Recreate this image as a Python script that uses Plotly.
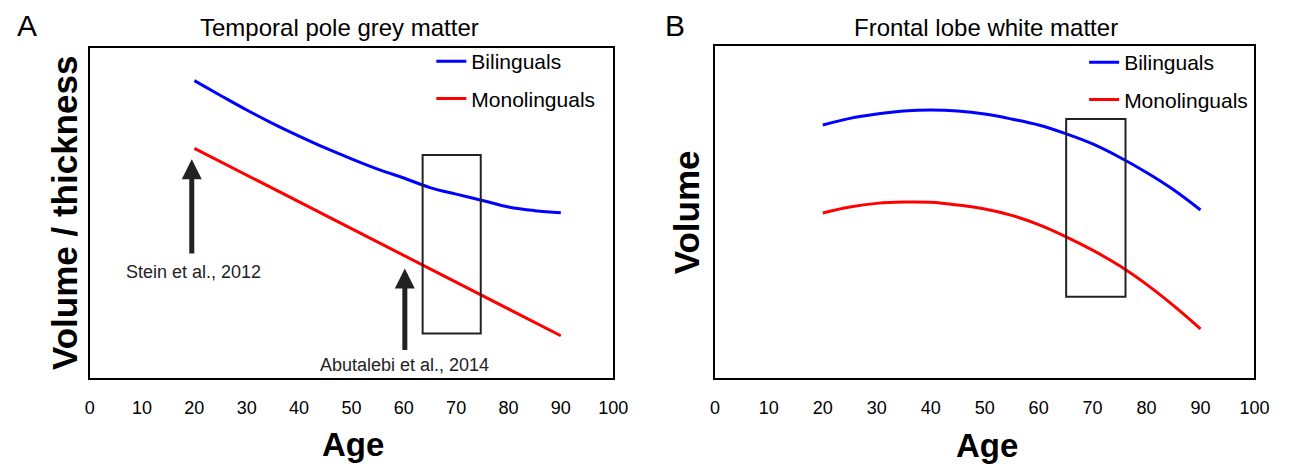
import plotly.graph_objects as go

W, H = 1299, 469

# ---------------- data ----------------
# Panel A: Temporal pole grey matter
ages_a_bi = [20, 25, 30, 35, 40, 45, 50, 55, 60, 65, 70, 75, 80, 85, 90]
vol_a_bi = [90.2, 85.7, 81.3, 77.2, 73.4, 69.8, 66.5, 63.4, 60.7, 57.8, 55.8, 53.9, 51.9, 50.8, 50.2]
ages_a_mono = [20, 90]
vol_a_mono = [69.7, 12.9]
box_a_x = [63.6, 74.7]
box_a_y = [13.6, 67.7]

# Panel B: Frontal lobe white matter
ages_b = [20, 25, 30, 35, 40, 45, 50, 55, 60, 65, 70, 75, 80, 85, 90]
vol_b_bi = [76.2, 78.2, 79.5, 80.4, 80.7, 80.4, 79.5, 78.0, 76.2, 73.6, 70.5, 66.5, 61.9, 56.7, 50.6]
vol_b_mono = [49.7, 51.5, 52.6, 53.0, 52.9, 52.1, 50.9, 49.0, 46.2, 42.6, 38.5, 33.8, 28.2, 21.8, 14.8]
box_b_x = [65.1, 76.1]
box_b_y = [24.5, 78.0]

x_ticks = [0, 10, 20, 30, 40, 50, 60, 70, 80, 90, 100]

# arrows (age, tip, tail) and labels
stein_arrow = dict(age=19.5, tip=66.4, tail=37.4)
stein_label = dict(age=19.9, y=32.3, text="Stein et al., 2012")
abu_arrow = dict(age=60.2, tip=33.3, tail=8.1)
abu_label = dict(age=60.2, y=4.0, text="Abutalebi et al., 2014")

FONT = "Liberation Sans, Arial, sans-serif"
BLUE = "#0000FF"
RED = "#FF0000"

def px(x):
    return x / W

def py(y):
    return 1 - y / H

fig = go.Figure()

fig.add_trace(go.Scatter(x=ages_a_bi, y=vol_a_bi, mode="lines", name="Bilinguals",
                         line=dict(color=BLUE, width=3, shape="spline", smoothing=1.1),
                         xaxis="x", yaxis="y", legend="legend", legendgroup="a1"))
fig.add_trace(go.Scatter(x=ages_a_mono, y=vol_a_mono, mode="lines", name="Monolinguals",
                         line=dict(color=RED, width=3),
                         xaxis="x", yaxis="y", legend="legend", legendgroup="a2"))
fig.add_trace(go.Scatter(x=ages_b, y=vol_b_bi, mode="lines", name="Bilinguals",
                         line=dict(color=BLUE, width=3, shape="spline", smoothing=1.1),
                         xaxis="x2", yaxis="y2", legend="legend2", legendgroup="b1"))
fig.add_trace(go.Scatter(x=ages_b, y=vol_b_mono, mode="lines", name="Monolinguals",
                         line=dict(color=RED, width=3, shape="spline", smoothing=1.1),
                         xaxis="x2", yaxis="y2", legend="legend2", legendgroup="b2"))

axis_common = dict(range=[0, 100], showline=True, linecolor="black", linewidth=2,
                   mirror=True, showgrid=False, zeroline=False)

fig.update_layout(
    width=W, height=H,
    margin=dict(l=0, r=0, t=0, b=0),
    paper_bgcolor="white", plot_bgcolor="white",
    font=dict(family=FONT, color="black"),
    xaxis=dict(**axis_common, domain=[px(86), px(617.7)], anchor="y",
               tickvals=x_ticks, ticks="", tickfont=dict(size=18),
               ticklabelstandoff=12),
    yaxis=dict(**axis_common, domain=[py(378.3), py(48.3)], anchor="x",
               showticklabels=False, ticks=""),
    xaxis2=dict(**axis_common, domain=[px(721), px(1269)], anchor="y2",
                tickvals=x_ticks, ticks="", tickfont=dict(size=18),
                ticklabelstandoff=12),
    yaxis2=dict(**axis_common, domain=[py(378), py(46)], anchor="x2",
                showticklabels=False, ticks=""),
    legend=dict(x=px(433), y=py(41), xanchor="left", yanchor="top",
                bgcolor="rgba(0,0,0,0)", font=dict(size=21), tracegroupgap=7,
                itemwidth=30),
    legend2=dict(x=px(1096), y=py(42), xanchor="left", yanchor="top",
                 bgcolor="rgba(0,0,0,0)", font=dict(size=21), tracegroupgap=7,
                 itemwidth=30),
    showlegend=True,
)

# rectangles
fig.add_shape(type="rect", xref="x", yref="y", x0=box_a_x[0], x1=box_a_x[1],
              y0=box_a_y[0], y1=box_a_y[1], line=dict(color="#222", width=2))
fig.add_shape(type="rect", xref="x2", yref="y2", x0=box_b_x[0], x1=box_b_x[1],
              y0=box_b_y[0], y1=box_b_y[1], line=dict(color="#222", width=2))

# arrows
for arr in (stein_arrow, abu_arrow):
    fig.add_annotation(x=arr["age"], y=arr["tip"], ax=arr["age"], ay=arr["tail"],
                       xref="x", yref="y", axref="x", ayref="y", text="",
                       showarrow=True, arrowhead=2, arrowsize=0.8, arrowwidth=5,
                       arrowcolor="#222")
for lab in (stein_label, abu_label):
    fig.add_annotation(x=lab["age"], y=lab["y"], xref="x", yref="y", text=lab["text"],
                       showarrow=False, font=dict(size=18, color="#222"),
                       xanchor="center", yanchor="middle")

# texts (paper coords)
def paper_text(text, x, y, size, bold=False, angle=0):
    fig.add_annotation(x=px(x), y=py(y), xref="paper", yref="paper",
                       text=f"<b>{text}</b>" if bold else text, showarrow=False,
                       font=dict(size=size, color="black", family=FONT),
                       xanchor="center", yanchor="middle", textangle=angle)

paper_text("A", 22, 25, 30)
paper_text("B", 680, 25, 30)
paper_text("Temporal pole grey matter", 340, 27, 24)
paper_text("Frontal lobe white matter", 996, 27, 24)
paper_text("Age", 353, 444, 33, bold=True)
paper_text("Age", 997, 445, 33, bold=True)
paper_text("Volume / thickness", 60, 213, 35, bold=True, angle=-90)
paper_text("Volume", 692, 212, 35, bold=True, angle=-90)

fig.write_html(
    "out.html",
    config={"displayModeBar": False},
    post_script="document.body.style.margin='0';document.body.style.overflow='hidden';",
)
